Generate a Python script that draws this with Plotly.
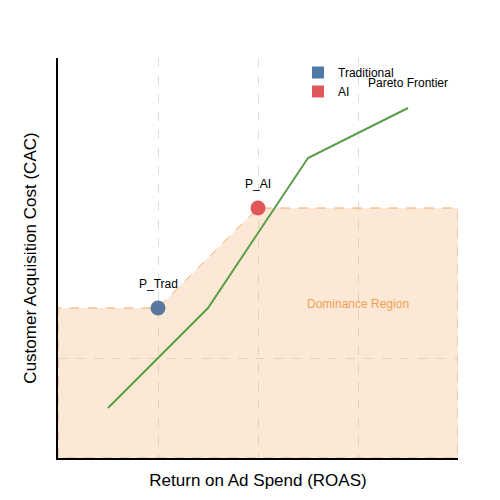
import plotly.graph_objects as go

frontier_x = [0.5, 1.5, 2.5, 3.5]
frontier_y = [0.5, 1.5, 3.0, 3.5]
region_x = [0, 0, 1, 2, 4, 4, 0]
region_y = [0, 1.5, 1.5, 2.5, 2.5, 0, 0]
trad = (1, 1.5)
ai = (2, 2.5)

fig = go.Figure()
fig.add_trace(go.Scatter(x=region_x, y=region_y, fill="toself", mode="lines",
    fillcolor="rgba(246,178,120,0.3)", line=dict(color="rgba(240,160,80,0.9)", dash="dash", width=1),
    showlegend=False, hoverinfo="skip"))
fig.add_trace(go.Scatter(x=frontier_x, y=frontier_y, mode="lines", line=dict(color="#5a9e44", width=2),
    showlegend=False))
fig.add_trace(go.Scatter(x=[trad[0]], y=[trad[1]], mode="markers", showlegend=False,
    marker=dict(color="#5878a0", size=15, symbol="circle")))
fig.add_trace(go.Scatter(x=[ai[0]], y=[ai[1]], mode="markers", showlegend=False,
    marker=dict(color="#e15759", size=15, symbol="circle")))
fig.add_trace(go.Scatter(x=[None], y=[None], mode="markers", name="Traditional",
    marker=dict(color="#4e79a7", size=20, symbol="square")))
fig.add_trace(go.Scatter(x=[None], y=[None], mode="markers", name="AI",
    marker=dict(color="#e15759", size=20, symbol="square")))
fig.add_annotation(x=trad[0], y=trad[1], text="P_Trad", showarrow=False, yshift=24, font=dict(size=12, color="black"))
fig.add_annotation(x=ai[0], y=ai[1], text="P_AI", showarrow=False, yshift=24, font=dict(size=12, color="black"))
fig.add_annotation(x=3.5, y=3.75, text="Pareto Frontier", showarrow=False, font=dict(size=12, color="black"))
fig.add_annotation(x=3.0, y=1.54, text="Dominance Region", showarrow=False, font=dict(size=12, color="#f0a050"))

fig.update_layout(width=500, height=500, margin=dict(l=50, r=50, t=50, b=50, autoexpand=False),
    plot_bgcolor="white", paper_bgcolor="white",
    font=dict(family="Liberation Sans, Arial", size=14, color="black"),
    legend=dict(x=0.6, y=1.0, xanchor="left", yanchor="top", bgcolor="rgba(0,0,0,0)",
                font=dict(size=12), itemsizing="constant", tracegroupgap=8))
fig.update_xaxes(range=[0, 4], showline=True, linecolor="black", linewidth=2, tickvals=[1, 2, 3],
    showticklabels=False, showgrid=True, gridcolor="#dddddd", griddash="dash", zeroline=False,
    automargin=False, title=dict(text="Return on Ad Spend (ROAS)", standoff=15))
fig.update_yaxes(range=[0, 4], showline=True, linecolor="black", linewidth=2, tickvals=[1],
    showticklabels=False, showgrid=True, gridcolor="#dddddd", griddash="dash", zeroline=False,
    automargin=False, title=dict(text="Customer Acquisition Cost (CAC)", standoff=15))
fig.write_html("out.html")
